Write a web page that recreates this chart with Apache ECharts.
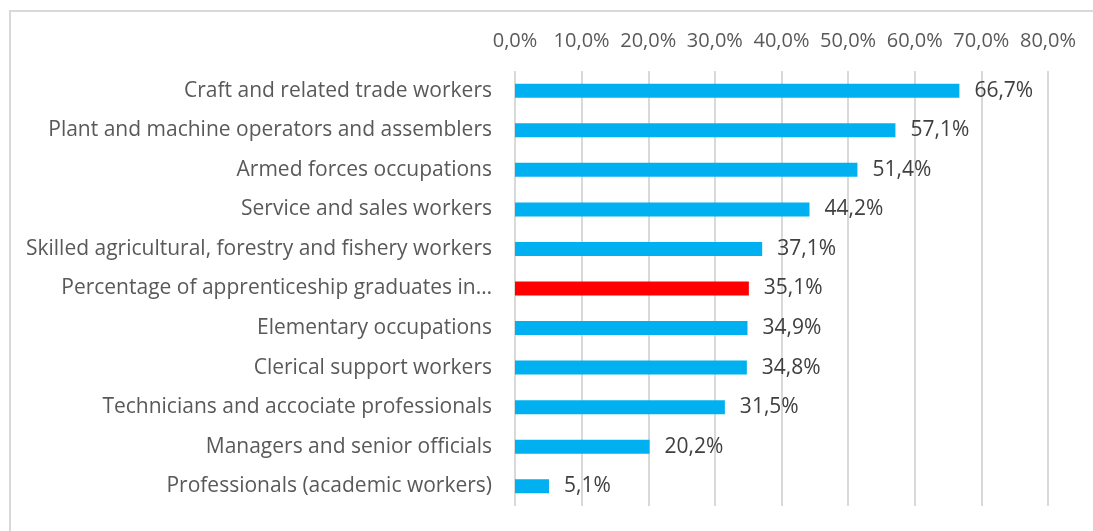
<!DOCTYPE html>
<html><head><meta charset="utf-8">
<script src="https://cdn.jsdelivr.net/npm/echarts@6/dist/echarts.min.js"></script>
<style>html,body{margin:0;padding:0;background:#fff;overflow:hidden}#c{width:1093px;height:531px}
#b{position:absolute;left:9px;top:10px;width:1200px;height:600px;border:2px solid #d9d9d9;box-sizing:border-box;pointer-events:none}</style>
</head><body><div id="c"></div><div id="b"></div>
<script>
const categories = [
  "Craft and related trade workers",
  "Plant and machine operators and assemblers",
  "Armed forces occupations",
  "Service and sales workers",
  "Skilled agricultural, forestry and fishery workers",
  "Percentage of apprenticeship graduates in…",
  "Elementary occupations",
  "Clerical support workers",
  "Technicians and accociate professionals",
  "Managers and senior officials",
  "Professionals (academic workers)"
];
const values = [66.7, 57.1, 51.4, 44.2, 37.1, 35.1, 34.9, 34.8, 31.5, 20.2, 5.1];
const highlightIndex = 5;

const fmt = v => v.toFixed(1).replace('.', ',') + '%';
const chart = echarts.init(document.getElementById('c'), null, {renderer: 'canvas'});
chart.setOption({
  animation: false,
  textStyle: {fontFamily: 'Open Sans'},
  grid: {left: 515, right: 45, top: 71, bottom: 25, containLabel: false},
  xAxis: {
    type: 'value', position: 'top', min: 0, max: 80, interval: 10,
    axisLine: {show: false}, axisTick: {show: false},
    splitLine: {lineStyle: {color: '#d9d9d9', width: 2}},
    axisLabel: {formatter: fmt, color: '#595959', fontSize: 20, margin: 20, hideOverlap: false}
  },
  yAxis: {
    type: 'category', inverse: true, data: categories,
    axisLine: {show: false}, axisTick: {show: false},
    axisLabel: {color: '#595959', fontSize: 21, margin: 23}
  },
  series: [{
    type: 'bar', barWidth: 14,
    data: values.map((v, i) => ({value: v, itemStyle: {color: i === highlightIndex ? '#FF0000' : '#00B0F0'}})),
    label: {show: true, position: 'right', distance: 15, formatter: p => fmt(p.value), color: '#404040', fontSize: 21}
  }]
});
</script></body></html>
